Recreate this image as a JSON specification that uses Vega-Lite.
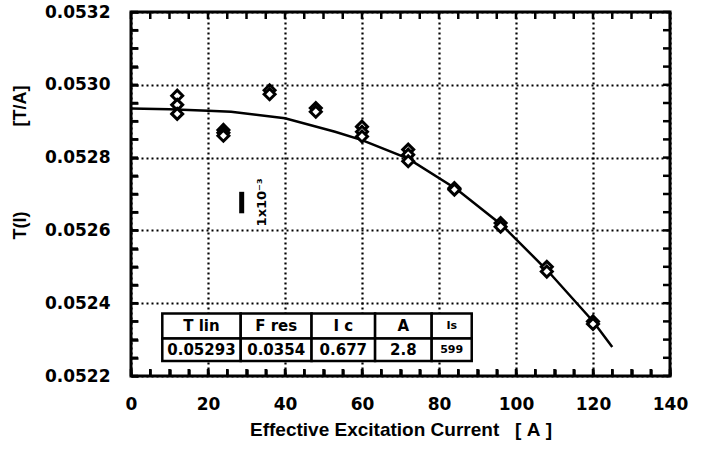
{
  "$schema": "https://vega.github.io/schema/vega-lite/v6.json",
  "width": 539,
  "height": 364,
  "autosize": {"type": "none"},
  "padding": {"left": 131, "top": 12, "right": 36, "bottom": 75},
  "background": "white",
  "config": {
    "view": {"stroke": "black", "strokeWidth": 3},
    "axis": {
      "domain": false,
      "labelFont": "DejaVu Sans", "labelFontWeight": "bold", "labelFontSize": 17, "labelColor": "black",
      "titleFont": "Liberation Sans", "titleFontWeight": "bold", "titleFontSize": 18, "titleColor": "black",
      "gridColor": "black", "gridDash": [2, 3], "gridWidth": 2.2
    }
  },
  "datasets": {
    "pts": [
      {"I": 12, "T": 0.05297}, {"I": 12, "T": 0.052945}, {"I": 12, "T": 0.05292},
      {"I": 24, "T": 0.052876}, {"I": 24, "T": 0.052868}, {"I": 24, "T": 0.05286},
      {"I": 36, "T": 0.052985}, {"I": 36, "T": 0.052974},
      {"I": 48, "T": 0.052936}, {"I": 48, "T": 0.052926},
      {"I": 60, "T": 0.052885}, {"I": 60, "T": 0.052871}, {"I": 60, "T": 0.052858},
      {"I": 72, "T": 0.052822}, {"I": 72, "T": 0.052808}, {"I": 72, "T": 0.05279},
      {"I": 84, "T": 0.052716}, {"I": 84, "T": 0.052712},
      {"I": 96, "T": 0.05262}, {"I": 96, "T": 0.05261},
      {"I": 108, "T": 0.0525}, {"I": 108, "T": 0.052487},
      {"I": 120, "T": 0.05235}, {"I": 120, "T": 0.052343}
    ],
    "fit": [
      {"I": 0, "T": 0.052935}, {"I": 10, "T": 0.052933}, {"I": 20, "T": 0.052929},
      {"I": 26, "T": 0.052926}, {"I": 40, "T": 0.052908}, {"I": 53, "T": 0.052871},
      {"I": 60, "T": 0.052848}, {"I": 72, "T": 0.052797}, {"I": 84.6, "T": 0.052713},
      {"I": 96.3, "T": 0.052615}, {"I": 108.4, "T": 0.052487}, {"I": 120.1, "T": 0.052349},
      {"I": 125, "T": 0.05228}
    ],
    "xt": [
      {"v": 0}, {"v": 5}, {"v": 10}, {"v": 15}, {"v": 20}, {"v": 25}, {"v": 30}, {"v": 35}, {"v": 40}, {"v": 45},
      {"v": 50}, {"v": 55}, {"v": 60}, {"v": 65}, {"v": 70}, {"v": 75}, {"v": 80}, {"v": 85}, {"v": 90}, {"v": 95},
      {"v": 100}, {"v": 105}, {"v": 110}, {"v": 115}, {"v": 120}, {"v": 125}, {"v": 130}, {"v": 135}, {"v": 140}
    ],
    "yt": [
      {"v": 0.0522}, {"v": 0.05225}, {"v": 0.0523}, {"v": 0.05235}, {"v": 0.0524}, {"v": 0.05245}, {"v": 0.0525},
      {"v": 0.05255}, {"v": 0.0526}, {"v": 0.05265}, {"v": 0.0527}, {"v": 0.05275}, {"v": 0.0528}, {"v": 0.05285},
      {"v": 0.0529}, {"v": 0.05295}, {"v": 0.053}, {"v": 0.05305}, {"v": 0.0531}, {"v": 0.05315}, {"v": 0.0532}
    ],
    "bar": [
      {"I": 28.75, "lo": 0.052647, "hi": 0.052706, "label": "1x10⁻³", "tx": 33.9, "ty": 0.052677}
    ],
    "table": [
      {"col": 1, "x0": 8.13, "x1": 28.5, "tx": 18.3, "y0": 0.052372, "y1": 0.052303, "ty": 0.0523374, "txt": "T lin"},
      {"col": 2, "x0": 28.5, "x1": 46.9, "tx": 37.7, "y0": 0.052372, "y1": 0.052303, "ty": 0.0523374, "txt": "F res"},
      {"col": 3, "x0": 46.9, "x1": 63.4, "tx": 55.15, "y0": 0.052372, "y1": 0.052303, "ty": 0.0523374, "txt": "I c"},
      {"col": 4, "x0": 63.4, "x1": 78.1, "tx": 70.75, "y0": 0.052372, "y1": 0.052303, "ty": 0.0523374, "txt": "A"},
      {"col": 5, "x0": 78.1, "x1": 88.5, "tx": 83.3, "y0": 0.052372, "y1": 0.052303, "ty": 0.0523374, "txt": "Is"},
      {"col": 1, "x0": 8.13, "x1": 28.5, "tx": 18.3, "y0": 0.052303, "y1": 0.052241, "ty": 0.0522714, "txt": "0.05293"},
      {"col": 2, "x0": 28.5, "x1": 46.9, "tx": 37.7, "y0": 0.052303, "y1": 0.052241, "ty": 0.0522714, "txt": "0.0354"},
      {"col": 3, "x0": 46.9, "x1": 63.4, "tx": 55.15, "y0": 0.052303, "y1": 0.052241, "ty": 0.0522714, "txt": "0.677"},
      {"col": 4, "x0": 63.4, "x1": 78.1, "tx": 70.75, "y0": 0.052303, "y1": 0.052241, "ty": 0.0522714, "txt": "2.8"},
      {"col": 5, "x0": 78.1, "x1": 88.5, "tx": 83.3, "y0": 0.052303, "y1": 0.052241, "ty": 0.0522714, "txt": "599"}
    ]
  },
  "resolve": {"axis": {"x": "independent", "y": "independent"}},
  "layer": [
    {
      "data": {"name": "pts"},
      "mark": {"type": "point", "opacity": 0},
      "encoding": {
        "x": {
          "field": "I", "type": "quantitative",
          "scale": {"domain": [0, 140], "nice": false, "zero": false},
          "axis": {
            "orient": "bottom", "title": null, "labels": false, "ticks": false, "grid": true,
            "values": [0, 20, 40, 60, 80, 100, 120, 140]
          }
        },
        "y": {
          "field": "T", "type": "quantitative",
          "scale": {"domain": [0.0522, 0.0532], "nice": false, "zero": false},
          "axis": {
            "orient": "left", "title": null, "labels": false, "ticks": false, "grid": true,
            "values": [0.0522, 0.0524, 0.0526, 0.0528, 0.053, 0.0532]
          }
        }
      }
    },
    {
      "data": {"name": "xt"},
      "mark": {"type": "tick", "orient": "vertical", "color": "black", "opacity": 1, "size": 7, "thickness": 2.5, "yOffset": -3.5},
      "encoding": {
        "x": {"field": "v", "type": "quantitative", "axis": null},
        "y": {"datum": 0.0522, "type": "quantitative", "axis": null}
      }
    },
    {
      "data": {"name": "xt"},
      "mark": {"type": "tick", "orient": "vertical", "color": "black", "opacity": 1, "size": 7, "thickness": 2.5, "yOffset": 3.5},
      "encoding": {
        "x": {"field": "v", "type": "quantitative", "axis": null},
        "y": {"datum": 0.0532, "type": "quantitative", "axis": null}
      }
    },
    {
      "data": {"name": "yt"},
      "mark": {"type": "tick", "orient": "horizontal", "color": "black", "opacity": 1, "size": 7, "thickness": 2.5, "xOffset": 3.5},
      "encoding": {
        "y": {"field": "v", "type": "quantitative", "axis": null},
        "x": {"datum": 0, "type": "quantitative", "axis": null}
      }
    },
    {
      "data": {"name": "yt"},
      "mark": {"type": "tick", "orient": "horizontal", "color": "black", "opacity": 1, "size": 7, "thickness": 2.5, "xOffset": -3.5},
      "encoding": {
        "y": {"field": "v", "type": "quantitative", "axis": null},
        "x": {"datum": 140, "type": "quantitative", "axis": null}
      }
    },
    {
      "data": {"name": "fit"},
      "mark": {"type": "line", "color": "black", "strokeWidth": 2.5},
      "encoding": {
        "x": {"field": "I", "type": "quantitative", "axis": null},
        "y": {"field": "T", "type": "quantitative", "axis": null}
      }
    },
    {
      "data": {"name": "pts"},
      "mark": {"type": "point", "shape": "diamond", "filled": false, "fill": "white", "fillOpacity": 1, "stroke": "black", "strokeWidth": 3, "size": 120, "opacity": 1},
      "encoding": {
        "x": {
          "field": "I", "type": "quantitative",
          "axis": {
            "orient": "bottom", "grid": false,
            "ticks": true, "tickSize": -7, "tickWidth": 2.5, "tickColor": "black",
            "title": "Effective Excitation Current\u00a0\u00a0\u00a0[\u00a0A\u00a0]",
            "titleFontSize": 19,
            "values": [0,5,10,15,20,25,30,35,40,45,50,55,60,65,70,75,80,85,90,95,100,105,110,115,120,125,130,135,140],
            "labelExpr": "datum.value % 20 === 0 ? datum.label : ''",
            "labelOverlap": false, "labelFlush": false,
            "labelPadding": 27, "titlePadding": 8
          }
        },
        "y": {
          "field": "T", "type": "quantitative",
          "axis": {
            "orient": "left", "grid": false,
            "ticks": true, "tickSize": -7, "tickWidth": 2.5, "tickColor": "black",
            "title": "T(I)\u00a0\u00a0\u00a0\u00a0\u00a0\u00a0\u00a0\u00a0\u00a0\u00a0\u00a0\u00a0\u00a0\u00a0\u00a0\u00a0\u00a0[T/A]",
            "titleX": -102, "titleY": 150,
            "values": [0.0522,0.05225,0.0523,0.05235,0.0524,0.05245,0.0525,0.05255,0.0526,0.05265,0.0527,0.05275,0.0528,0.05285,0.0529,0.05295,0.053,0.05305,0.0531,0.05315,0.0532],
            "labelExpr": "round(datum.value*100000) % 20 === 0 ? format(datum.value, '.4f') : ''",
            "labelOverlap": false, "labelFlush": false,
            "labelPadding": 28
          }
        }
      }
    },
    {
      "data": {"name": "bar"},
      "mark": {"type": "rule", "color": "black", "strokeWidth": 5},
      "encoding": {
        "x": {"field": "I", "type": "quantitative", "axis": null},
        "y": {"field": "lo", "type": "quantitative", "axis": null},
        "y2": {"field": "hi"}
      }
    },
    {
      "data": {"name": "bar"},
      "mark": {"type": "text", "angle": 270, "font": "DejaVu Sans", "fontWeight": "bold", "fontSize": 13, "color": "black", "align": "center", "baseline": "middle"},
      "encoding": {
        "x": {"field": "tx", "type": "quantitative", "axis": null},
        "y": {"field": "ty", "type": "quantitative", "axis": null},
        "text": {"field": "label"}
      }
    },
    {
      "data": {"name": "table"},
      "mark": {"type": "rect", "fill": "white", "stroke": "black", "strokeWidth": 2.5},
      "encoding": {
        "x": {"field": "x0", "type": "quantitative", "axis": null},
        "x2": {"field": "x1"},
        "y": {"field": "y0", "type": "quantitative", "axis": null},
        "y2": {"field": "y1"}
      }
    },
    {
      "data": {"name": "table"},
      "mark": {"type": "text", "font": "DejaVu Sans", "fontWeight": "bold", "color": "black", "align": "center", "baseline": "middle"},
      "encoding": {
        "x": {"field": "tx", "type": "quantitative", "axis": null},
        "y": {"field": "ty", "type": "quantitative", "axis": null},
        "text": {"field": "txt"},
        "size": {"condition": {"test": "datum.col === 5", "value": 11}, "value": 15}
      }
    }
  ]
}
